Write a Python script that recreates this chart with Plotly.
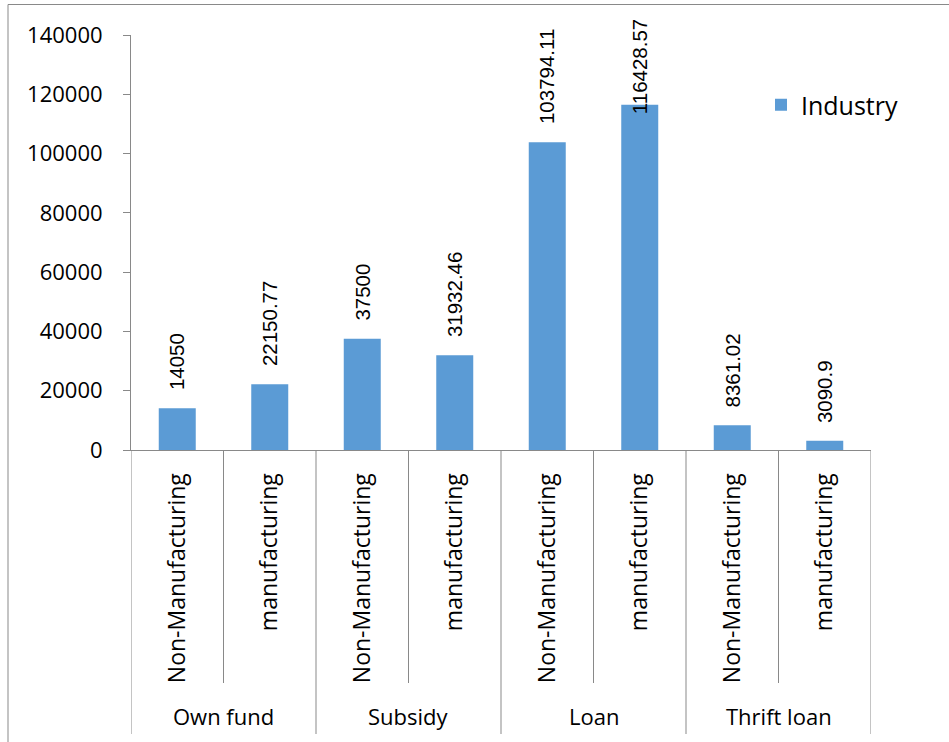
import plotly.graph_objects as go

# ---- data ----
groups = ["Own fund", "Subsidy", "Loan", "Thrift loan"]
sub_labels = ["Non-Manufacturing", "manufacturing",
              "Non-Manufacturing", "manufacturing",
              "Non-Manufacturing", "manufacturing",
              "Non-Manufacturing", "manufacturing"]
values = [14050, 22150.77, 37500, 31932.46, 103794.11, 116428.57, 8361.02, 3090.9]
value_labels = ["14050", "22150.77", "37500", "31932.46",
                "103794.11", "116428.57", "8361.02", "3090.9"]
y_ticks = [0, 20000, 40000, 60000, 80000, 100000, 120000, 140000]
series_name = "Industry"

# ---- styling ----
BAR_COLOR = "#5B9BD5"
AXIS_GRAY = "#898989"
UI_FONT = "Open Sans, Noto Sans, sans-serif"
NUM_FONT = "Liberation Sans, Arial, sans-serif"
W, H = 949, 742
M_L, M_R, M_T, M_B = 131, 78, 35, 292
PLOT_H = H - M_T - M_B
Y_MAX = y_ticks[-1]
LABEL_SIZE = 20.5

positions = list(range(len(values)))
per_group = len(values) // len(groups)


def px_to_paper_y(px):
    return (H - M_B - px) / PLOT_H


def px_to_paper_x(px):
    return (px - M_L) / (W - M_L - M_R)


def label_length(text, size):
    # approximate advance widths for a Helvetica-like face
    return size * sum(0.278 if ch == "." else 0.556 for ch in text)


fig = go.Figure()
fig.add_trace(go.Bar(
    x=positions, y=values, width=0.4, name=series_name,
    marker=dict(color=BAR_COLOR, line=dict(width=0)),
    showlegend=True,
))

annotations = []
# value labels sitting above each bar (kept inside the chart at the top)
for x, v, txt in zip(positions, values, value_labels):
    bar_top = M_T + (Y_MAX - v) / Y_MAX * PLOT_H
    length = label_length(txt, LABEL_SIZE)
    shift = 16
    if bar_top - shift - length < 19:
        shift = bar_top - 19 - length
    annotations.append(dict(
        x=x, y=v, xref="x", yref="y", text=txt, showarrow=False,
        textangle=-90, yanchor="bottom", xanchor="center", yshift=shift,
        font=dict(family=NUM_FONT, size=LABEL_SIZE, color="black"),
    ))

# group captions under the category labels
for g, name in enumerate(groups):
    center = g * per_group + (per_group - 1) / 2
    annotations.append(dict(
        x=center, y=px_to_paper_y(716), xref="x", yref="paper", text=name,
        showarrow=False, yanchor="middle", xanchor="center",
        font=dict(family=UI_FONT, size=22, color="black"),
    ))

shapes = []
inner_bottom = px_to_paper_y(683)
outer_bottom = px_to_paper_y(734)
for k in range(len(values) + 1):
    b = k - 0.5
    is_group_edge = (k % per_group == 0)
    shapes.append(dict(
        type="line", xref="x", yref="paper", x0=b, x1=b,
        y0=0, y1=outer_bottom if is_group_edge else inner_bottom,
        line=dict(color=AXIS_GRAY, width=1),
    ))

# outer chart frame (top and left edges)
frame_left = px_to_paper_x(8)
frame_top = px_to_paper_y(4.5)
shapes.append(dict(type="line", xref="paper", yref="paper",
                   x0=frame_left, x1=px_to_paper_x(W + 2), y0=frame_top, y1=frame_top,
                   line=dict(color=AXIS_GRAY, width=1)))
shapes.append(dict(type="line", xref="paper", yref="paper",
                   x0=frame_left, x1=frame_left, y0=frame_top, y1=px_to_paper_y(H + 2),
                   line=dict(color=AXIS_GRAY, width=1)))

fig.update_layout(
    width=W, height=H,
    margin=dict(l=M_L, r=M_R, t=M_T, b=M_B, pad=0),
    paper_bgcolor="white", plot_bgcolor="white",
    bargap=0.6,
    annotations=annotations,
    shapes=shapes,
    legend=dict(
        x=px_to_paper_x(761), y=px_to_paper_y(82), xanchor="left", yanchor="top",
        font=dict(family=UI_FONT, size=25, color="black"),
        bgcolor="rgba(0,0,0,0)", borderwidth=0,
    ),
    font=dict(family=UI_FONT, color="black"),
)

fig.update_xaxes(
    range=[-0.5, len(values) - 0.5],
    tickmode="array", tickvals=positions, ticktext=sub_labels,
    tickangle=-90, ticks="", ticklabelstandoff=13,
    tickfont=dict(family=UI_FONT, size=23, color="black"),
    showline=True, linecolor=AXIS_GRAY, linewidth=1,
    showgrid=False, zeroline=False, fixedrange=True,
)
fig.update_yaxes(
    range=[0, Y_MAX], tickmode="array", tickvals=y_ticks,
    ticktext=[str(t) for t in y_ticks],
    ticks="outside", ticklen=7, tickcolor=AXIS_GRAY, tickwidth=1,
    ticklabelstandoff=16,
    tickfont=dict(family=UI_FONT, size=22, color="black"),
    showline=True, linecolor=AXIS_GRAY, linewidth=1,
    showgrid=False, zeroline=False, fixedrange=True,
)

fig.write_html("out.html")
